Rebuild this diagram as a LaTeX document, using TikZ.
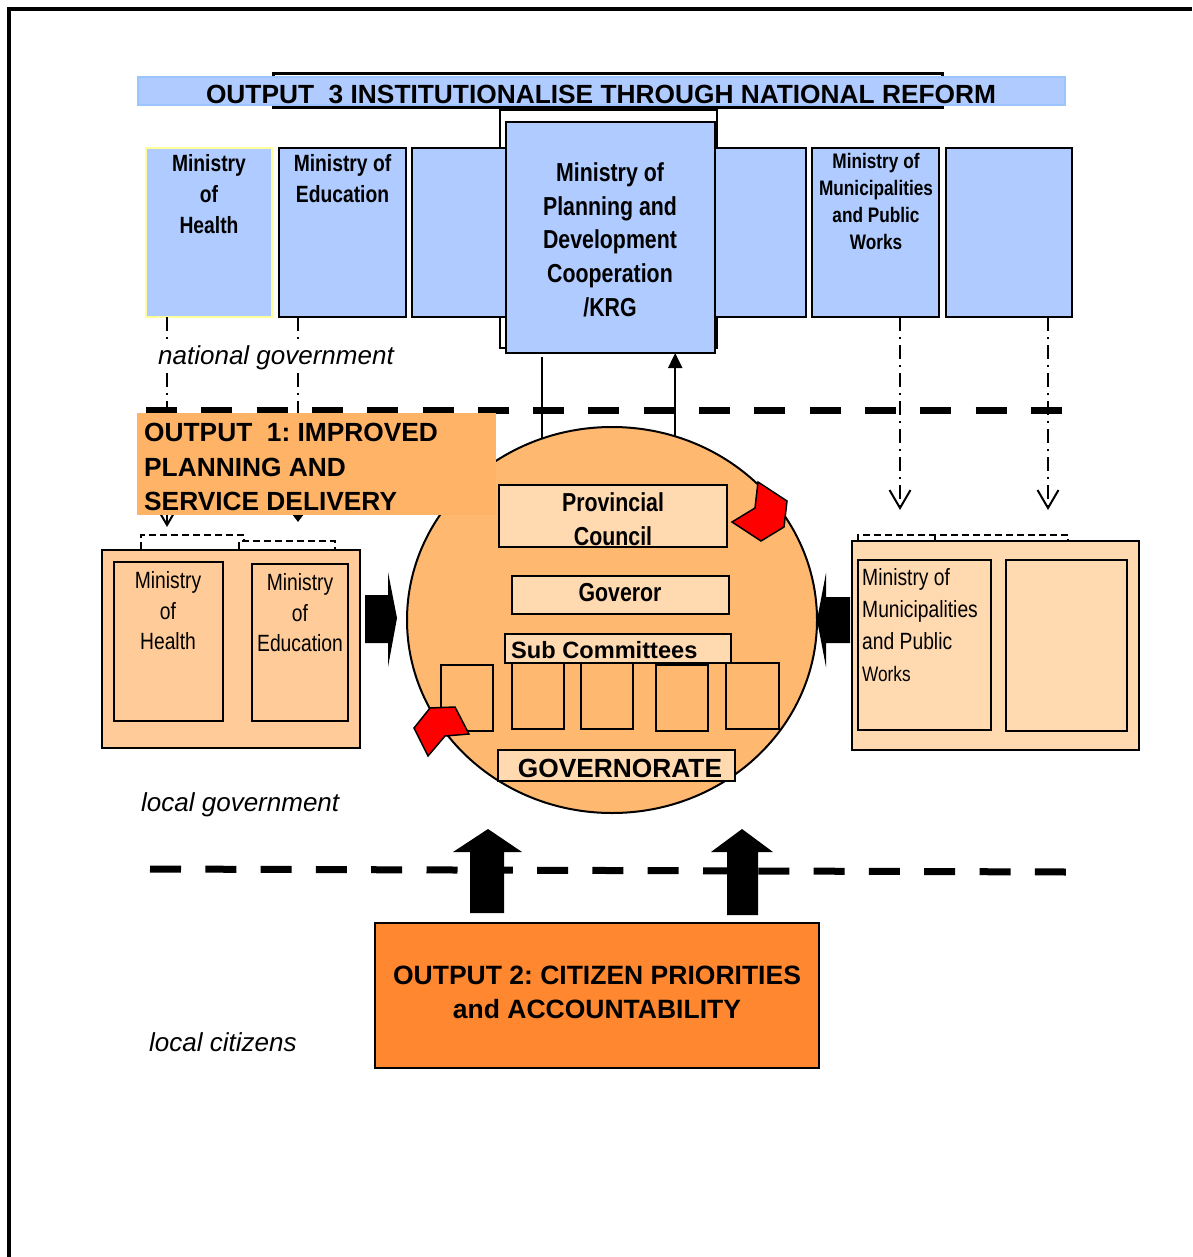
\documentclass[tikz,border=0pt]{standalone}
\usepackage{fontspec}
\setmainfont{Liberation Sans}
\newfontfamily\narrowf[FakeStretch=0.82]{Liberation Sans}
\usetikzlibrary{arrows.meta,shapes.geometric}
\definecolor{mblue}{HTML}{AFCBFF}
\definecolor{bandedge}{HTML}{9CC4FF}
\definecolor{hyellow}{HTML}{FFFF99}
\definecolor{lorange}{HTML}{FFCC99}
\definecolor{paleorange}{HTML}{FFD9B0}
\definecolor{circorange}{HTML}{FFB870}
\definecolor{outone}{HTML}{FFB366}
\definecolor{outtwo}{HTML}{FF872F}
\frenchspacing
\tikzset{
  box/.style={draw=black, line width=2pt, inner sep=0pt, outer sep=0pt},
  bluebox/.style={box, fill=mblue},
  nbA/.style={font=\narrowf\bfseries\fontsize{23.5}{31}\selectfont, align=center, inner sep=0pt},
  nbB/.style={font=\narrowf\bfseries\fontsize{26}{33.7}\selectfont, align=center, inner sep=0pt},
  nbC/.style={font=\narrowf\bfseries\fontsize{21}{27}\selectfont, align=center, inner sep=0pt},
  nrA/.style={font=\narrowf\fontsize{23.5}{30.5}\selectfont, align=center, inner sep=0pt},
  bold26/.style={font=\bfseries\fontsize{26.3}{34.5}\selectfont, inner sep=0pt},
  ital26/.style={font=\itshape\fontsize{26}{30}\selectfont, inner sep=0pt},
  dotdash/.style={line width=2pt, dash pattern=on 14pt off 6pt on 2pt off 6pt},
  bigdash/.style={line width=7pt, dash pattern=on 31pt off 24.3pt},
  thindash/.style={line width=1.6pt, dash pattern=on 7pt off 4pt},
  conn/.style={line width=2pt},
  redtab/.style={fill=red, draw=black, line width=1.5pt, line join=miter},
}
\begin{document}
\begin{tikzpicture}[x=1pt,y=-1pt]
\useasboundingbox (0,0) rectangle (1192,1257);
% frame
\draw[line width=4pt] (8.5,1257) -- (8.5,9.5) -- (1192,9.5);

% title
\node[draw=black, line width=3pt, fill=white, minimum width=669, minimum height=34, inner sep=0pt] (tback) at (607.5,91) {};
\node[draw=bandedge, line width=1.5pt, fill=mblue, minimum width=927, minimum height=28, inner sep=0pt] (band) at (601.5,91) {};
\node[bold26] (title) at (601,94) {OUTPUT\ \ 3 INSTITUTIONALISE THROUGH NATIONAL REFORM};

% national ministries
\node[box, fill=white, minimum width=217, minimum height=238] (mpdback) at (608.5,229) {};
\node[bluebox, draw=hyellow, minimum width=126, minimum height=169] (mh) at (209,232.5) {};
\node[bluebox, minimum width=127, minimum height=169] (me) at (342.5,232.5) {};
\node[bluebox, minimum width=98, minimum height=169] (mb3) at (461,232.5) {};
\node[bluebox, minimum width=96, minimum height=169] (mb4) at (758,232.5) {};
\node[bluebox, minimum width=127, minimum height=169] (mm) at (875.5,232.5) {};
\node[bluebox, minimum width=126, minimum height=169] (mb6) at (1009,232.5) {};
\node[bluebox, minimum width=209, minimum height=231] (mpd) at (610.5,237.5) {};
\node[nbA, anchor=north] (mhT) at (209,154.5) {Ministry\\of\\Health};
\node[nbA, anchor=north] (meT) at (342.5,154.5) {Ministry of\\Education};
\node[nbB, anchor=north] (mpdT) at (610,162.5) {Ministry of\\Planning and\\Development\\Cooperation\\/KRG};
\node[nbC, anchor=north] (mmT) at (876,153.5) {Ministry of\\Municipalities\\and Public\\Works};

% left dash-dot connectors
\coordinate (lc1) at (167,527);
\coordinate (lc2) at (298,522);
\draw[dotdash, -{Straight Barb[length=18pt,width=21pt]}] (mh.south -| lc1) -- (lc1);
\draw[dotdash, -{Triangle[length=7pt,width=10pt]}] (me.south -| lc2) -- (lc2);
\node[ital26, fill=white, inner sep=3pt, anchor=base] (ng) at (276,364) {national government};

% right dash-dot connectors
\coordinate (rc1) at (900,510);
\coordinate (rc2) at (1048,510);
\draw[dotdash, -{Straight Barb[length=18pt,width=21pt]}] (mm.south -| rc1) -- (rc1);
\draw[dotdash, -{Straight Barb[length=18pt,width=21pt]}] (mb6.south -| rc2) -- (rc2);

% national / local divider
\draw[bigdash] (146,410) -- (1066,410);

% local boxes
\node[box, fill=lorange, minimum width=258, minimum height=198] (ll) at (231,649) {};
\node[box, fill=lorange, minimum width=109, minimum height=159] (llh) at (168.5,641.5) {};
\node[box, fill=lorange, minimum width=96, minimum height=157] (lle) at (300,642.5) {};
\node[nrA, anchor=north] (llhT) at (168,571.5) {Ministry\\of\\Health};
\node[nrA, anchor=north] (lleT) at (300,573.5) {Ministry\\of\\Education};
\draw[thindash] (141,549) -- (141,535) -- (244,535) -- (244,541);
\draw[thindash] (239,549) -- (239,541) -- (335,541) -- (335,549);

\node[box, fill=paleorange, minimum width=287, minimum height=209] (lr) at (995.5,645.5) {};
\node[box, fill=paleorange, minimum width=133, minimum height=170] (lrm) at (924.5,645) {};
\node[box, fill=paleorange, minimum width=121, minimum height=171] (lrb) at (1066.5,645.5) {};
\node[font=\narrowf\fontsize{23.5}{32}\selectfont, align=left, inner sep=0pt, anchor=north west] (lrmT) at (862,568.5) {Ministry of\\Municipalities\\and Public\\{\fontsize{21}{29}\selectfont Works}};
\draw[thindash] (858,541) -- (858,535) -- (1068,535) -- (1068,541);
\draw[thindash] (935,535) -- (935,540);

% governorate circle
\node[ellipse, draw=black, line width=2pt, fill=circorange, minimum width=410, minimum height=386, inner sep=0pt, outer sep=0pt] (gov) at (612,620) {};
\node[box, fill=paleorange, minimum width=228, minimum height=62] (pc) at (613,516) {};
\node[nbB, anchor=north] (pcT) at (613,492.5) {Provincial\\Council};
\node[box, fill=paleorange, minimum width=217, minimum height=38] (gv) at (620.5,595) {};
\node[nbB] (gvT) at (620,593) {Goveror};
\node[box, fill=circorange, minimum width=52, minimum height=66] (sb1) at (467,698) {};
\node[box, fill=circorange, minimum width=52, minimum height=66] (sb2) at (538,696) {};
\node[box, fill=circorange, minimum width=52, minimum height=66] (sb3) at (607,696) {};
\node[box, fill=circorange, minimum width=52, minimum height=66] (sb4) at (682,698) {};
\node[box, fill=circorange, minimum width=53, minimum height=66] (sb5) at (752.5,696) {};
\node[box, fill=paleorange, minimum width=226, minimum height=29] (sc) at (618,648.5) {};
\node[font=\bfseries\fontsize{23.6}{27}\selectfont, inner sep=0pt, anchor=west] (scT) at (511,650) {Sub Committees};
\node[box, fill=paleorange, minimum width=237, minimum height=31] (gn) at (616.5,765.5) {};
\node[bold26] (gnT) at (620,768) {GOVERNORATE};

% connections between circle and ministry of planning
\draw[conn, shorten >=4pt] (gov.111.4) -- (gov.111.4 |- mpd.south);
\draw[conn, -{Triangle[length=15pt,width=14pt]}] (gov.71.1) -- (gov.71.1 |- mpd.south);

% red tabs
\filldraw[redtab] (758,482) -- (787,501) -- (784,527) -- (761,541) -- (732,522) -- (755,508) -- cycle;
\filldraw[redtab] (430,708) -- (455,707) -- (469,734) -- (445,736) -- (428,756) -- (414,728) -- cycle;

% output 1
\node[fill=outone, minimum width=359, minimum height=102, inner sep=0pt] (o1) at (316.5,464) {};
\node[bold26, align=left, anchor=north west] (o1T) at (144,423) {OUTPUT\ \ 1: IMPROVED\\PLANNING AND\\SERVICE DELIVERY};

% side block arrows
\fill (365,595) -- (388,595) -- (388,572) -- (397,618) -- (388,667) -- (388,643) -- (365,643) -- cycle;
\fill (850,597) -- (826,597) -- (826,573) -- (817,620) -- (826,667) -- (826,643) -- (850,643) -- cycle;

% labels
\node[ital26, anchor=base west] (lg) at (141,811) {local government};
\node[ital26, anchor=base west] (lcz) at (149,1051) {local citizens};

% local / citizens divider
\draw[bigdash] (150,869) -- (1067,872);

% up block arrows
\fill (470,913) -- (470,852) -- (453,852) -- (488,829) -- (522,852) -- (504,852) -- (504,913) -- cycle;
\fill (727,915) -- (727,852) -- (711,852) -- (742,829) -- (773,852) -- (758,852) -- (758,915) -- cycle;

% output 2
\node[box, fill=outtwo, minimum width=444, minimum height=145] (o2) at (597,995.5) {};
\node[align=center, anchor=north, inner sep=0pt, font=\bfseries\fontsize{26.5}{34}\selectfont] (o2T) at (597,966) {OUTPUT 2: CITIZEN PRIORITIES\\and ACCOUNTABILITY};
\end{tikzpicture}
\end{document}
